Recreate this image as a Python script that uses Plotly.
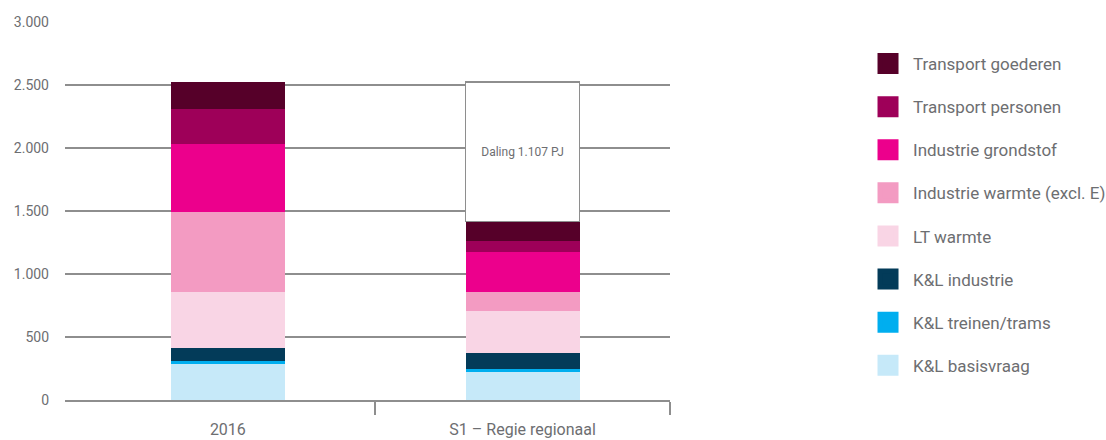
import plotly.graph_objects as go

# Energy demand per sector (PJ), stacked bottom to top
categories = ["2016", "S1 – Regie regionaal"]
sectors = [
    "K&L basisvraag",
    "K&L treinen/trams",
    "K&L industrie",
    "LT warmte",
    "Industrie warmte (excl. E)",
    "Industrie grondstof",
    "Transport personen",
    "Transport goederen",
]
values_2016 = [286, 21, 106, 447, 636, 537, 277, 215]
values_s1 = [219, 27, 127, 333, 154, 317, 88, 153]
colors = ["#c6e9f9", "#00aeef", "#033b59", "#f9d5e5", "#f39bc2", "#ec008c", "#9e0059", "#560029"]

decline = 1107  # PJ
decline_label = "Daling 1.107 PJ"

ytick_vals = [0, 500, 1000, 1500, 2000, 2500, 3000]
ytick_text = ["0", "500", "1.000", "1.500", "2.000", "2.500", "3.000"]

FONT = "Roboto, Lato, sans-serif"
TEXT = "#6d6e71"
GRID = "#8e8e8e"

x_pos = list(range(len(categories)))
bar_w = 0.386

fig = go.Figure()

for name, v16, vs1, col in zip(sectors, values_2016, values_s1, colors):
    fig.add_trace(go.Bar(
        x=x_pos, y=[v16, vs1], name=name, width=bar_w,
        marker=dict(color=col, line=dict(width=0)),
        showlegend=False, hoverinfo="skip",
    ))

# Decline box on top of the scenario bar
s1_total = sum(values_s1)
fig.add_trace(go.Bar(
    x=[x_pos[1]], y=[decline], base=[s1_total], width=bar_w,
    marker=dict(color="white", line=dict(color=GRID, width=1.5)),
    text=[decline_label], textposition="inside", insidetextanchor="middle",
    textangle=0, constraintext="none",
    insidetextfont=dict(family=FONT, size=12, color=TEXT),
    showlegend=False, hoverinfo="skip",
))

# Legend entries (square swatches)
for i, (name, col) in enumerate(reversed(list(zip(sectors, colors)))):
    fig.add_trace(go.Scatter(
        x=[None], y=[None], mode="markers", name=name,
        marker=dict(symbol="square", size=16, color=col, line=dict(color=col, width=5)),
        legendgroup=f"g{i}", showlegend=True,
    ))

fig.update_layout(
    width=1106, height=440,
    margin=dict(l=65, r=436, t=22, b=40, autoexpand=False),
    paper_bgcolor="white", plot_bgcolor="white",
    barmode="stack",
    font=dict(family=FONT, color=TEXT),
    showlegend=True,
    legend=dict(
        xref="container", yref="paper",
        x=0.7803, y=0.9365, xanchor="left", yanchor="top",
        traceorder="grouped", tracegroupgap=18, itemwidth=40,
        font=dict(family=FONT, size=17, color=TEXT),
        itemsizing="trace",
    ),
    xaxis=dict(
        range=[-0.5525, 1.5], tickvals=x_pos, ticktext=categories,
        ticks="", showgrid=False, zeroline=False, automargin=False,
        showline=True, linecolor=GRID, linewidth=1.5,
        tickfont=dict(family=FONT, size=16, color=TEXT),
        ticklabelstandoff=14,
        minor=dict(tickmode="array", tickvals=[0.5, 1.5], ticks="outside",
                   ticklen=13, tickwidth=1.5, tickcolor=GRID, showgrid=False),
    ),
    yaxis=dict(
        range=[0, 3000], tickvals=ytick_vals, ticktext=ytick_text,
        showgrid=True, gridcolor=GRID, gridwidth=1.5, automargin=False,
        zeroline=False, showline=False, ticks="",
        tickfont=dict(family=FONT, size=14, color=TEXT),
        ticklabelstandoff=15,
    ),
)

fig.write_html("out.html")
